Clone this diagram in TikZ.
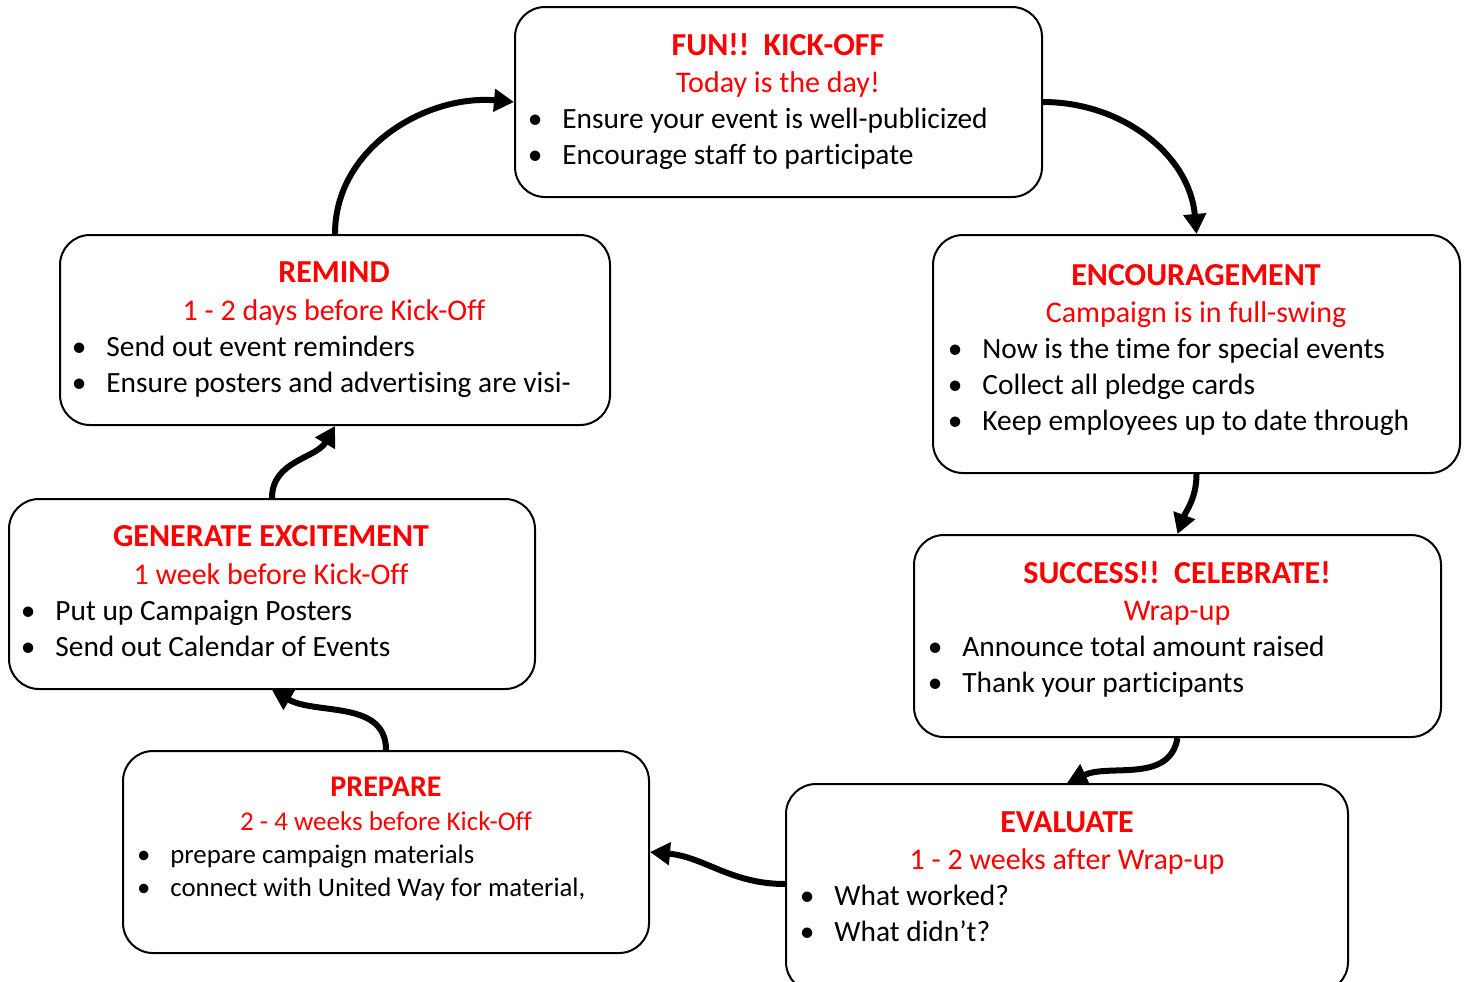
\documentclass[tikz,border=0pt]{standalone}
\usepackage{fontspec}
\setmainfont{Carlito}[Ligatures=NoCommon]
\usetikzlibrary{arrows.meta}
\tikzset{
box/.style={draw, line width=1pt, rounded corners=15pt, inner sep=0pt},
title/.style={anchor=base, text=red, inner sep=0pt, font=\fontsize{16}{18}\selectfont\bfseries},
sub/.style={anchor=base, text=red, inner sep=0pt, font=\fontsize{15}{17}\selectfont},
item/.style={anchor=base west, inner sep=0pt, font=\fontsize{14.7}{17}\selectfont},
smalltitle/.style={font=\fontsize{15}{17}\selectfont\bfseries},
smallsub/.style={font=\fontsize{13.5}{15}\selectfont},
smallitem/.style={font=\fontsize{13.4}{15}\selectfont},
flow/.style={line width=3pt, -{Triangle[length=10pt,width=11pt]}}
}
\newcommand{\bul}{\llap{\textbullet\hspace{10pt}}}
\begin{document}
\begin{tikzpicture}[x=0.5pt, y=-0.5pt]
\useasboundingbox (0,0) rectangle (1465,981);
\clip (0,0) rectangle (1465,981);
\node(kick) [box, minimum width=263.5pt, minimum height=95pt] at (778.5,102) {};
\node(remind) [box, minimum width=275pt, minimum height=95pt] at (335,330) {};
\node(encour) [box, minimum width=263.5pt, minimum height=119pt] at (1196.5,354) {};
\node(success) [box, minimum width=263.5pt, minimum height=101pt] at (1177.5,636) {};
\node(evaluate) [box, minimum width=281pt, minimum height=104pt] at (1067,888) {};
\node(prepare) [box, minimum width=263pt, minimum height=101pt] at (386,852) {};
\node(generate) [box, minimum width=263pt, minimum height=95pt] at (272,594) {};
\node(kick0) [title] at (778,55) {FUN!!\ \ KICK-OFF};
\node(kick1) [sub] at (778,92) {Today is the day!};
\node(kick2) [item] at (562,128) {\bul Ensure your event is well-publicized};
\node(kick3) [item] at (562,164) {\bul Encourage staff to participate};
\node(remind0) [title] at (334,282) {REMIND};
\node(remind1) [sub] at (334,320) {1 - 2 days before Kick-Off};
\node(remind2) [item] at (106,356) {\bul Send out event reminders};
\node(remind3) [item] at (106,392) {\bul Ensure posters and advertising are visi-};
\node(encour0) [title] at (1196,285) {ENCOURAGEMENT};
\node(encour1) [sub] at (1196,322) {Campaign is in full-swing};
\node(encour2) [item] at (982,358) {\bul Now is the time for special events};
\node(encour3) [item] at (982,394) {\bul Collect all pledge cards};
\node(encour4) [item] at (982,430) {\bul Keep employees up to date through};
\node(success0) [title] at (1177,583) {SUCCESS!!\ \ CELEBRATE!};
\node(success1) [sub] at (1177,620) {Wrap-up};
\node(success2) [item] at (962,656) {\bul Announce total amount raised};
\node(success3) [item] at (962,692) {\bul Thank your participants};
\node(evaluate0) [title] at (1067,832) {EVALUATE};
\node(evaluate1) [sub] at (1067,869) {1 - 2 weeks after Wrap-up};
\node(evaluate2) [item] at (834,905) {\bul What worked?};
\node(evaluate3) [item] at (834,941) {\bul What didn’t?};
\node(prepare0) [title, smalltitle] at (386,796) {PREPARE};
\node(prepare1) [sub, smallsub] at (386,830) {2 - 4 weeks before Kick-Off};
\node(prepare2) [item, smallitem] at (170,863) {\bul prepare campaign materials};
\node(prepare3) [item, smallitem] at (170,896) {\bul connect with United Way for material,};
\node(generate0) [title] at (271,546) {GENERATE EXCITEMENT};
\node(generate1) [sub] at (271,584) {1 week before Kick-Off};
\node(generate2) [item] at (55,620) {\bul Put up Campaign Posters};
\node(generate3) [item] at (55,656) {\bul Send out Calendar of Events};
\draw[flow] (remind.north) to[out=90, in=175] (kick.west);
\draw[flow] (kick.east) to[out=0, in=95] (encour.north);
\draw[flow] (encour.south) to[out=-90, in=70] (success.north);
\draw[flow] (success.south) to[out=-100, in=25] (evaluate.north);
\draw[flow] ([yshift=2pt]evaluate.west) to[out=180, in=-5] (prepare.east);
\draw[flow] (prepare.north) to[out=90, in=-30] (generate.south);
\draw[flow] (generate.north) to[out=90, in=-120] (remind.south);
\end{tikzpicture}
\end{document}
